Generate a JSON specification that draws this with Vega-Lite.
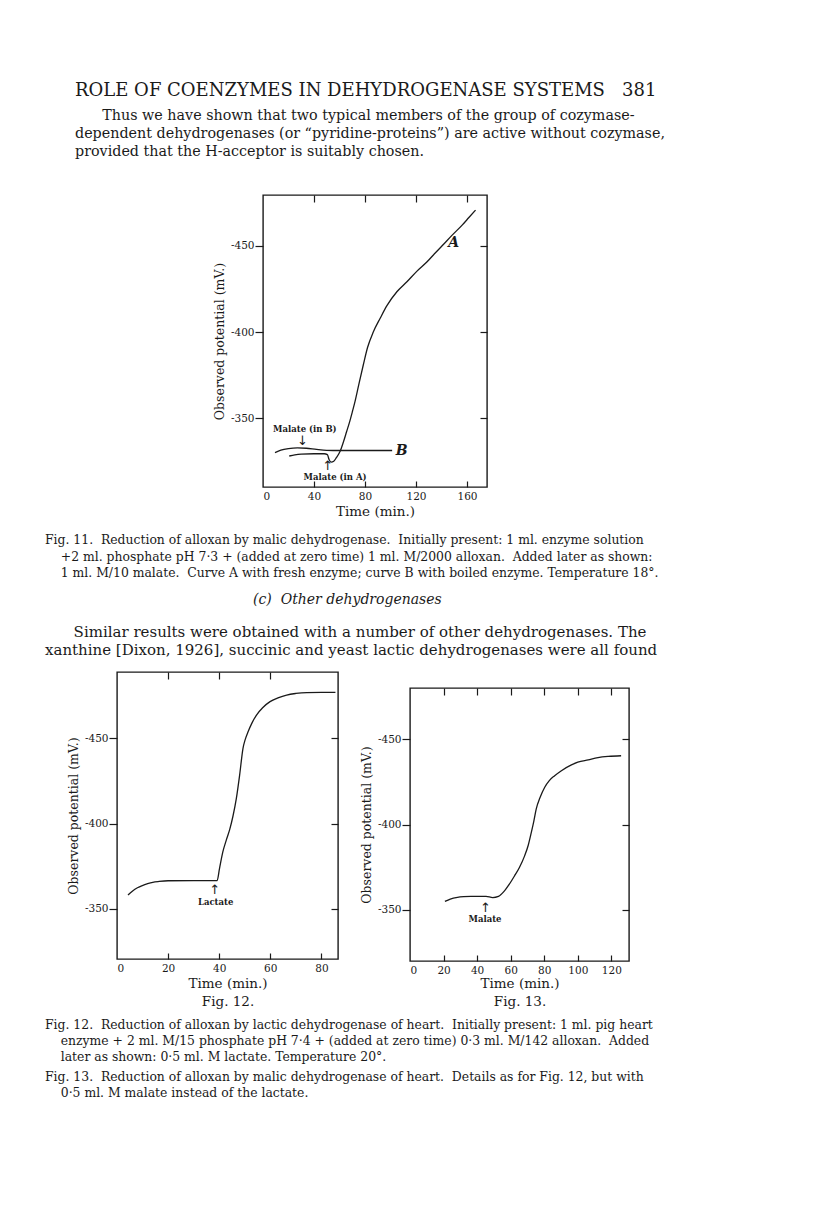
{
  "$schema": "https://vega.github.io/schema/vega-lite/v6.json",
  "background": "white",
  "padding": {"left": 45, "top": 82, "right": 20, "bottom": 20},
  "config": {
    "font": "DejaVu Serif",
    "view": {"stroke": "#1a1a1a", "strokeWidth": 1.4},
    "axis": {"domain": false, "grid": false, "labelFont": "DejaVu Serif", "labelFontSize": 10.5, "labelColor": "#1a1a1a", "tickColor": "#1a1a1a", "tickWidth": 1.2, "titleFont": "DejaVu Serif", "titleFontSize": 13, "titleFontWeight": "normal", "titleColor": "#1a1a1a"},
    "title": {"font": "DejaVu Serif", "subtitleFont": "DejaVu Serif", "color": "#1a1a1a", "subtitleColor": "#1a1a1a", "fontWeight": "normal", "subtitleFontWeight": "normal", "anchor": "start", "frame": "group"},
    "text": {"font": "DejaVu Serif", "color": "#1a1a1a"},
    "line": {"color": "#1a1a1a"}
  },
  "datasets": {
    "f11a": [{"t":20.6,"v":-328.0},{"t":25,"v":-328.7},{"t":30,"v":-329.1},{"t":40,"v":-329.3},{"t":48,"v":-329.3},{"t":50.5,"v":-328.8},{"t":51.8,"v":-326.0},{"t":53.5,"v":-324.5},{"t":55.5,"v":-325.0},{"t":57.5,"v":-327.0},{"t":60.4,"v":-330.6},{"t":63,"v":-336.0},{"t":65.6,"v":-342.2},{"t":68,"v":-348.0},{"t":70.2,"v":-354.0},{"t":72.2,"v":-359.7},{"t":75,"v":-369.0},{"t":78.7,"v":-381.0},{"t":82,"v":-391.0},{"t":86.6,"v":-400.2},{"t":91.9,"v":-408.0},{"t":97.2,"v":-415.3},{"t":105.0,"v":-423.4},{"t":112.9,"v":-429.2},{"t":120.8,"v":-435.4},{"t":128.7,"v":-440.8},{"t":134.5,"v":-445.5},{"t":140.5,"v":-450.1},{"t":148,"v":-456.0},{"t":156.2,"v":-462.1},{"t":161.5,"v":-466.5},{"t":166.7,"v":-470.8}],
    "f11b": [{"t":9.4,"v":-330.0},{"t":14,"v":-331.4},{"t":20,"v":-332.3},{"t":27,"v":-332.7},{"t":34,"v":-332.5},{"t":42,"v":-331.8},{"t":50,"v":-331.3},{"t":60,"v":-331.2},{"t":80,"v":-331.2},{"t":101.3,"v":-331.2}],
    "f11n": [{"t":32.8,"v":-343.6,"label":"Malate (in B)","kind":"note"},{"t":31,"v":-336.8,"label":"↓","kind":"arrow"},{"t":56.5,"v":-315.8,"label":"Malate (in A)","kind":"note"},{"t":50.7,"v":-322.4,"label":"↑","kind":"arrow"},{"t":149.5,"v":-451.5,"label":"A","kind":"curve"},{"t":108.8,"v":-331,"label":"B","kind":"curve"}],
    "f12": [{"t":4.3,"v":-358.2},{"t":6,"v":-360.4},{"t":8,"v":-362.4},{"t":9.9,"v":-363.7},{"t":12,"v":-364.8},{"t":14,"v":-365.6},{"t":16.5,"v":-366.1},{"t":20,"v":-366.5},{"t":30,"v":-366.6},{"t":39.2,"v":-366.6},{"t":40.1,"v":-373.5},{"t":41.4,"v":-383.3},{"t":42.8,"v":-390.5},{"t":44.1,"v":-396.5},{"t":45.4,"v":-404.5},{"t":46.7,"v":-414.7},{"t":48,"v":-428.5},{"t":49.3,"v":-444.1},{"t":50.2,"v":-449.5},{"t":51.3,"v":-453.9},{"t":52.8,"v":-459.0},{"t":54.6,"v":-463.7},{"t":57,"v":-468.0},{"t":59.9,"v":-471.6},{"t":63,"v":-473.8},{"t":66.4,"v":-475.5},{"t":70,"v":-476.4},{"t":74.3,"v":-476.9},{"t":80,"v":-477.0},{"t":85.5,"v":-477.0}],
    "f12n": [{"t":38.6,"v":-354.3,"label":"Lactate","kind":"note"},{"t":38.2,"v":-361.3,"label":"↑","kind":"arrow"}],
    "f13": [{"t":20.8,"v":-354.9},{"t":24,"v":-356.3},{"t":28.3,"v":-357.3},{"t":32,"v":-357.7},{"t":36.3,"v":-357.9},{"t":45.3,"v":-357.9},{"t":49.3,"v":-357.2},{"t":52.7,"v":-357.9},{"t":56.3,"v":-361.1},{"t":59.2,"v":-365.0},{"t":62.3,"v":-369.9},{"t":65.2,"v":-374.8},{"t":68.3,"v":-381.6},{"t":70.5,"v":-388.0},{"t":72.3,"v":-395.4},{"t":73.8,"v":-402.0},{"t":75.2,"v":-409.0},{"t":77.5,"v":-415.8},{"t":80.2,"v":-421.7},{"t":83,"v":-425.7},{"t":86.2,"v":-428.6},{"t":90,"v":-431.4},{"t":96.2,"v":-434.9},{"t":100,"v":-436.5},{"t":106.2,"v":-437.9},{"t":112,"v":-439.2},{"t":118.2,"v":-439.9},{"t":125.8,"v":-440.3}],
    "f13n": [{"t":44.7,"v":-344.5,"label":"Malate","kind":"note"},{"t":44.9,"v":-351.2,"label":"↑","kind":"arrow"}]
  },
  "title": {
    "text": "ROLE OF COENZYMES IN DEHYDROGENASE SYSTEMS\u00a0\u00a0\u00a0381",
    "subtitle": ["\u200b\u00a0\u00a0\u00a0\u00a0\u00a0\u00a0Thus we have shown that two typical members of the group of cozymase-", "dependent dehydrogenases (or “pyridine-proteins”) are active without cozymase,", "provided that the H-acceptor is suitably chosen."],
    "anchor": "start", "frame": "group", "dx": -42,
    "fontSize": 18, "subtitleFontSize": 14.3, "subtitleLineHeight": 18, "subtitlePadding": 9, "offset": 34
  },
  "spacing": 15,
  "vconcat": [
    {
      "spacing": 0,
      "hconcat": [
        {"width": 95, "height": 10, "data": {"values": []}, "mark": "text", "view": {"stroke": null}},
        {
          "width": 224, "height": 292,
          "resolve": {"axis": {"x": "independent", "y": "independent"}},
          "layer": [
            {"data": {"name": "f11a"}, "mark": {"type": "line", "strokeWidth": 1.3, "interpolate": "monotone"},
             "encoding": {
               "x": {"field": "t", "type": "quantitative", "scale": {"domain": [0, 175.7], "nice": false, "zero": false}, "axis": {"orient": "bottom", "values": [0, 40, 80, 120, 160], "ticks": false, "labelPadding": 4, "title": "Time (min.)", "titlePadding": 3, "titleFontSize": 13.5}},
               "y": {"field": "v", "type": "quantitative", "scale": {"domain": [-479.6, -310], "nice": false, "zero": false, "reverse": true}, "axis": {"orient": "left", "values": [-450, -400, -350], "tickSize": 8, "labelPadding": 1, "labelExpr": "'-' + abs(datum.value)", "title": "Observed potential (mV.)", "titlePadding": 4, "titleFontSize": 12.5}}
             }},
            {"data": {"name": "f11b"}, "mark": {"type": "line", "strokeWidth": 1.3, "interpolate": "monotone"},
             "encoding": {
               "x": {"field": "t", "type": "quantitative", "scale": {"domain": [0, 175.7], "nice": false, "zero": false}, "axis": {"orient": "top", "values": [40, 80, 120, 160], "labels": false, "tickSize": -7, "title": null}},
               "y": {"field": "v", "type": "quantitative", "scale": {"domain": [-479.6, -310], "nice": false, "zero": false, "reverse": true}, "axis": {"orient": "right", "values": [-450, -400, -350], "labels": false, "tickSize": -7, "title": null}}
             }},
            {"data": {"name": "f11n"}, "transform": [{"filter": "datum.kind === 'note'"}], "mark": {"type": "text", "fontSize": 8.5, "fontWeight": "bold"},
             "encoding": {
               "x": {"field": "t", "type": "quantitative", "scale": {"domain": [0, 175.7], "nice": false, "zero": false}, "axis": {"orient": "bottom", "values": [40, 80, 120, 160], "labels": false, "tickSize": -6, "title": null}},
               "y": {"field": "v", "type": "quantitative", "scale": {"domain": [-479.6, -310], "nice": false, "zero": false, "reverse": true}, "axis": null},
               "text": {"field": "label"}
             }},
            {"data": {"name": "f11n"}, "transform": [{"filter": "datum.kind === 'arrow'"}], "mark": {"type": "text", "fontSize": 13, "font": "DejaVu Sans", "color": "#1a1a1a"},
             "encoding": {
               "x": {"field": "t", "type": "quantitative", "scale": {"domain": [0, 175.7], "nice": false, "zero": false}, "axis": null},
               "y": {"field": "v", "type": "quantitative", "scale": {"domain": [-479.6, -310], "nice": false, "zero": false, "reverse": true}, "axis": null},
               "text": {"field": "label"}
             }},
            {"data": {"name": "f11n"}, "transform": [{"filter": "datum.kind === 'curve'"}], "mark": {"type": "text", "fontSize": 14, "fontStyle": "italic", "fontWeight": "bold"},
             "encoding": {
               "x": {"field": "t", "type": "quantitative", "scale": {"domain": [0, 175.7], "nice": false, "zero": false}, "axis": null},
               "y": {"field": "v", "type": "quantitative", "scale": {"domain": [-479.6, -310], "nice": false, "zero": false, "reverse": true}, "axis": null},
               "text": {"field": "label"}
             }}
          ]
        }
      ]
    },
    {
      "title": {
        "text": ["Fig. 11.\u00a0\u00a0Reduction of alloxan by malic dehydrogenase.\u00a0\u00a0Initially present: 1 ml. enzyme solution", "\u200b\u00a0\u00a0\u00a0\u00a0+2 ml. phosphate pH 7·3 + (added at zero time) 1 ml. M/2000 alloxan.\u00a0\u00a0Added later as shown:", "\u200b\u00a0\u00a0\u00a0\u00a01 ml. M/10 malate.\u00a0\u00a0Curve A with fresh enzyme; curve B with boiled enzyme. Temperature 18°."],
        "fontSize": 12.4, "lineHeight": 16.2, "dx": -72, "offset": 13.5
      },
      "spacing": 13,
      "vconcat": [
        {
          "title": {"text": "(c)\u00a0\u00a0Other dehydrogenases", "fontSize": 14, "fontStyle": "italic", "dx": 136, "offset": 18},
          "vconcat": [
            {
              "title": {"text": ["\u200b\u00a0\u00a0\u00a0\u00a0\u00a0\u00a0Similar results were obtained with a number of other dehydrogenases. The", "xanthine [Dixon, 1926], succinic and yeast lactic dehydrogenases were all found"], "fontSize": 15, "lineHeight": 18, "dx": -72, "offset": 13},
              "vconcat": [
                {
                  "title": {
                    "orient": "bottom",
                    "text": ["Fig. 12.\u00a0\u00a0Reduction of alloxan by lactic dehydrogenase of heart.\u00a0\u00a0Initially present: 1 ml. pig heart", "\u200b\u00a0\u00a0\u00a0\u00a0enzyme + 2 ml. M/15 phosphate pH 7·4 + (added at zero time) 0·3 ml. M/142 alloxan.\u00a0\u00a0Added", "\u200b\u00a0\u00a0\u00a0\u00a0later as shown: 0·5 ml. M lactate. Temperature 20°."],
                    "subtitle": ["Fig. 13.\u00a0\u00a0Reduction of alloxan by malic dehydrogenase of heart.\u00a0\u00a0Details as for Fig. 12, but with", "\u200b\u00a0\u00a0\u00a0\u00a00·5 ml. M malate instead of the lactate."],
                    "fontSize": 12.4, "lineHeight": 16, "subtitleFontSize": 12.4, "subtitleLineHeight": 16, "subtitlePadding": 8, "dx": -72, "offset": 10
                  },
                  "vconcat": [
                    {
                      "spacing": 19,
                      "hconcat": [
                        {
                          "width": 221, "height": 287,
                          "resolve": {"axis": {"x": "independent", "y": "independent"}},
                          "layer": [
                            {"data": {"name": "f12"}, "mark": {"type": "line", "strokeWidth": 1.3, "interpolate": "monotone"},
                             "encoding": {
                               "x": {"field": "t", "type": "quantitative", "scale": {"domain": [0, 86.5], "nice": false, "zero": false}, "axis": {"orient": "bottom", "values": [0, 20, 40, 60, 80], "ticks": false, "labelPadding": 4, "title": ["Time (min.)", "Fig. 12."], "titleLineHeight": 18, "titlePadding": 3, "titleFontSize": 13.5}},
                               "y": {"field": "v", "type": "quantitative", "scale": {"domain": [-489, -320.6], "nice": false, "zero": false, "reverse": true}, "axis": {"orient": "left", "values": [-450, -400, -350], "tickSize": 8, "labelPadding": 1, "labelExpr": "'-' + abs(datum.value)", "title": "Observed potential (mV.)", "titlePadding": 4, "titleFontSize": 12.5}}
                             }},
                            {"data": {"name": "f12"}, "mark": {"type": "line", "strokeWidth": 1.3, "interpolate": "monotone", "opacity": 0},
                             "encoding": {
                               "x": {"field": "t", "type": "quantitative", "scale": {"domain": [0, 86.5], "nice": false, "zero": false}, "axis": {"orient": "top", "values": [20, 40, 60], "labels": false, "tickSize": -7, "title": null}},
                               "y": {"field": "v", "type": "quantitative", "scale": {"domain": [-489, -320.6], "nice": false, "zero": false, "reverse": true}, "axis": {"orient": "right", "values": [-450, -400, -350], "labels": false, "tickSize": -7, "title": null}}
                             }},
                            {"data": {"name": "f12n"}, "transform": [{"filter": "datum.kind === 'note'"}], "mark": {"type": "text", "fontSize": 8.5, "fontWeight": "bold"},
                             "encoding": {
                               "x": {"field": "t", "type": "quantitative", "scale": {"domain": [0, 86.5], "nice": false, "zero": false}, "axis": {"orient": "bottom", "values": [20, 40, 60, 80], "labels": false, "tickSize": -6, "title": null}},
                               "y": {"field": "v", "type": "quantitative", "scale": {"domain": [-489, -320.6], "nice": false, "zero": false, "reverse": true}, "axis": null},
                               "text": {"field": "label"}
                             }},
                            {"data": {"name": "f12n"}, "transform": [{"filter": "datum.kind === 'arrow'"}], "mark": {"type": "text", "fontSize": 13, "font": "DejaVu Sans", "color": "#1a1a1a"},
                             "encoding": {
                               "x": {"field": "t", "type": "quantitative", "scale": {"domain": [0, 86.5], "nice": false, "zero": false}, "axis": null},
                               "y": {"field": "v", "type": "quantitative", "scale": {"domain": [-489, -320.6], "nice": false, "zero": false, "reverse": true}, "axis": null},
                               "text": {"field": "label"}
                             }}
                          ]
                        },
                        {
                          "spacing": 0,
                          "vconcat": [
                            {"width": 10, "height": 14, "data": {"values": []}, "mark": "text", "view": {"stroke": null}},
                            {
                              "width": 219, "height": 273,
                              "resolve": {"axis": {"x": "independent", "y": "independent"}},
                              "layer": [
                                {"data": {"name": "f13"}, "mark": {"type": "line", "strokeWidth": 1.3, "interpolate": "monotone"},
                                 "encoding": {
                                   "x": {"field": "t", "type": "quantitative", "scale": {"domain": [0, 130.5], "nice": false, "zero": false}, "axis": {"orient": "bottom", "values": [0, 20, 40, 60, 80, 100, 120], "ticks": false, "labelPadding": 4, "title": ["Time (min.)", "Fig. 13."], "titleLineHeight": 18, "titlePadding": 1, "titleFontSize": 13.5}},
                                   "y": {"field": "v", "type": "quantitative", "scale": {"domain": [-480, -320], "nice": false, "zero": false, "reverse": true}, "axis": {"orient": "left", "values": [-450, -400, -350], "tickSize": 8, "labelPadding": 1, "labelExpr": "'-' + abs(datum.value)", "title": "Observed potential (mV.)", "titlePadding": 4, "titleFontSize": 12.5}}
                                 }},
                                {"data": {"name": "f13"}, "mark": {"type": "line", "strokeWidth": 1.3, "interpolate": "monotone", "opacity": 0},
                                 "encoding": {
                                   "x": {"field": "t", "type": "quantitative", "scale": {"domain": [0, 130.5], "nice": false, "zero": false}, "axis": {"orient": "top", "values": [20, 40, 60, 80, 100, 120], "labels": false, "tickSize": -7, "title": null}},
                                   "y": {"field": "v", "type": "quantitative", "scale": {"domain": [-480, -320], "nice": false, "zero": false, "reverse": true}, "axis": {"orient": "right", "values": [-450, -400, -350], "labels": false, "tickSize": -7, "title": null}}
                                 }},
                                {"data": {"name": "f13n"}, "transform": [{"filter": "datum.kind === 'note'"}], "mark": {"type": "text", "fontSize": 8.5, "fontWeight": "bold"},
                                 "encoding": {
                                   "x": {"field": "t", "type": "quantitative", "scale": {"domain": [0, 130.5], "nice": false, "zero": false}, "axis": {"orient": "bottom", "values": [20, 40, 60, 80, 100, 120], "labels": false, "tickSize": -6, "title": null}},
                                   "y": {"field": "v", "type": "quantitative", "scale": {"domain": [-480, -320], "nice": false, "zero": false, "reverse": true}, "axis": null},
                                   "text": {"field": "label"}
                                 }},
                                {"data": {"name": "f13n"}, "transform": [{"filter": "datum.kind === 'arrow'"}], "mark": {"type": "text", "fontSize": 13, "font": "DejaVu Sans", "color": "#1a1a1a"},
                                 "encoding": {
                                   "x": {"field": "t", "type": "quantitative", "scale": {"domain": [0, 130.5], "nice": false, "zero": false}, "axis": null},
                                   "y": {"field": "v", "type": "quantitative", "scale": {"domain": [-480, -320], "nice": false, "zero": false, "reverse": true}, "axis": null},
                                   "text": {"field": "label"}
                                 }}
                              ]
                            }
                          ]
                        }
                      ]
                    }
                  ]
                }
              ]
            }
          ]
        }
      ]
    }
  ]
}
